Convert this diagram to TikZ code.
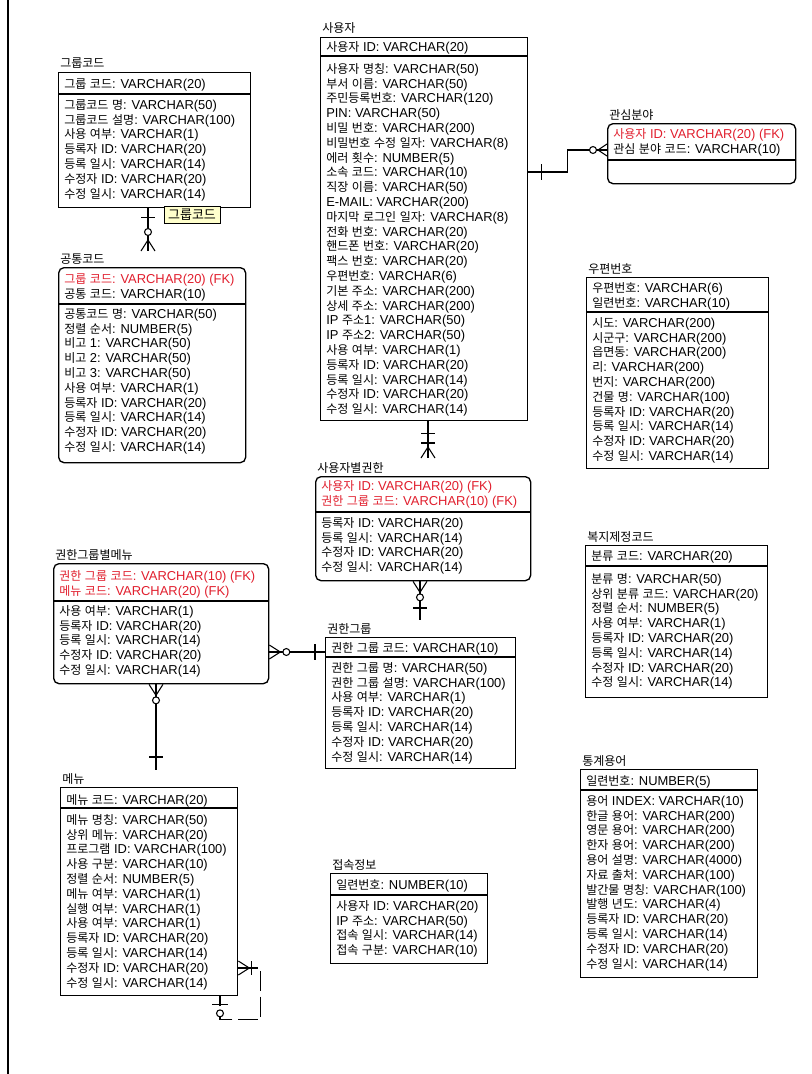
\documentclass[tikz,border=0pt]{standalone}
\usepackage{fontspec}
\setmainfont{Liberation Sans}
\newfontfamily\krfont{Noto Sans CJK KR}[Scale=0.93]
\usetikzlibrary{calc}

% hangul syllables are set in the Korean font
\XeTeXinterchartokenstate=1
\newXeTeXintercharclass\krclass
\newcount\krc
\krc="AC00
\loop\XeTeXcharclass\krc=\krclass\advance\krc by 1\relax\ifnum\krc<"D7A4\repeat
\XeTeXinterchartoks 0 \krclass = {\krfont}
\XeTeXinterchartoks 4095 \krclass = {\krfont}
\XeTeXinterchartoks \krclass 0 = {\rmfamily}
\XeTeXinterchartoks \krclass 4095 = {\rmfamily}

\definecolor{fkred}{RGB}{225,30,45}
\definecolor{tagyellow}{RGB}{255,255,204}
\newcommand{\rowfont}{\fontsize{9.7}{11.1}\selectfont}

\tikzset{
  ent/.style 2 args={draw, line width=1pt, anchor=north west, inner sep=0pt,
    minimum width=#1*0.75pt, minimum height=#2*0.75pt},
  rent/.style 2 args={ent={#1}{#2}, rounded corners=4pt},
  ttl/.style={anchor=base west, inner sep=0pt, font=\rowfont},
  rows/.style={anchor=north west, align=left, inner sep=0pt, font=\rowfont},
  sepl/.style={line width=1pt},
  rel/.style={line width=0.8pt},
  nonid/.style={rel, dash pattern=on 15pt off 4pt},
  tag/.style={draw, fill=tagyellow, inner xsep=3pt, inner ysep=2pt,
    font=\fontsize{10.5}{12}\selectfont},
}

\begin{document}
\begin{tikzpicture}[x=0.75pt,y=-0.75pt]
  \useasboundingbox (0,0) rectangle (811,1074);
  \fill[white] (0,0) rectangle (811,1074);
  \draw[line width=1pt] (8,0) -- (8,1074);
  % 그룹코드
  \node[ent={192}{135}] (grp) at (58,72) {};
  \node[ttl] (grp-t) at ($(grp.north west)+(2,-4)$) {그룹코드};
  \node[rows] (grp-k) at ($(grp.north west)+(6,7)$) {그룹 코드: VARCHAR(20)};
  \draw[sepl] ($(grp.north west)+(0,22)$) -- ($(grp.north east)+(0,22)$);
  \node[rows] (grp-b) at ($(grp.north west)+(6,27)$) {그룹코드 명: VARCHAR(50)\\
    그룹코드 설명: VARCHAR(100)\\ 사용 여부: VARCHAR(1)\\ 등록자 ID: VARCHAR(20)\\
    등록 일시: VARCHAR(14)\\ 수정자 ID: VARCHAR(20)\\ 수정 일시: VARCHAR(14)};
  % 공통코드
  \node[rent={187}{195}] (com) at (58,267) {};
  \node[ttl] (com-t) at ($(com.north west)+(2,-4)$) {공통코드};
  \node[rows] (com-k) at ($(com.north west)+(6,7)$) {\textcolor{fkred}{그룹 코드: VARCHAR(20) (FK)}\\
    공통 코드: VARCHAR(10)};
  \draw[sepl] ($(com.north west)+(0,37)$) -- ($(com.north east)+(0,37)$);
  \node[rows] (com-b) at ($(com.north west)+(6,41)$) {공통코드 명: VARCHAR(50)\\
    정렬 순서: NUMBER(5)\\ 비고 1: VARCHAR(50)\\ 비고 2: VARCHAR(50)\\ 비고 3: VARCHAR(50)\\
    사용 여부: VARCHAR(1)\\ 등록자 ID: VARCHAR(20)\\ 등록 일시: VARCHAR(14)\\
    수정자 ID: VARCHAR(20)\\ 수정 일시: VARCHAR(14)};
  % 사용자
  \node[ent={207}{383}] (usr) at (320,37) {};
  \node[ttl] (usr-t) at ($(usr.north west)+(2,-4)$) {사용자};
  \node[rows] (usr-k) at ($(usr.north west)+(6,4)$) {사용자 ID: VARCHAR(20)};
  \draw[sepl] ($(usr.north west)+(0,19)$) -- ($(usr.north east)+(0,19)$);
  \node[rows] (usr-b) at ($(usr.north west)+(6,26)$) {사용자 명칭: VARCHAR(50)\\
    부서 이름: VARCHAR(50)\\ 주민등록번호: VARCHAR(120)\\ PIN: VARCHAR(50)\\
    비밀 번호: VARCHAR(200)\\ 비밀번호 수정 일자: VARCHAR(8)\\ 에러 횟수: NUMBER(5)\\
    소속 코드: VARCHAR(10)\\ 직장 이름: VARCHAR(50)\\ E-MAIL: VARCHAR(200)\\
    마지막 로그인 일자: VARCHAR(8)\\ 전화 번호: VARCHAR(20)\\ 핸드폰 번호: VARCHAR(20)\\
    팩스 번호: VARCHAR(20)\\ 우편번호: VARCHAR(6)\\ 기본 주소: VARCHAR(200)\\
    상세 주소: VARCHAR(200)\\ IP 주소1: VARCHAR(50)\\ IP 주소2: VARCHAR(50)\\
    사용 여부: VARCHAR(1)\\ 등록자 ID: VARCHAR(20)\\ 등록 일시: VARCHAR(14)\\
    수정자 ID: VARCHAR(20)\\ 수정 일시: VARCHAR(14)};
  % 관심분야
  \node[rent={188}{60}] (intr) at (607,123) {};
  \node[ttl] (intr-t) at ($(intr.north west)+(2,-4)$) {관심분야};
  \node[rows] (intr-k) at ($(intr.north west)+(6,5)$) {\textcolor{fkred}{사용자 ID: VARCHAR(20) (FK)}\\
    관심 분야 코드: VARCHAR(10)};
  \draw[sepl] ($(intr.north west)+(0,37)$) -- ($(intr.north east)+(0,37)$);
  % 우편번호
  \node[ent={182}{191}] (zip) at (586,277) {};
  \node[ttl] (zip-t) at ($(zip.north west)+(2,-4)$) {우편번호};
  \node[rows] (zip-k) at ($(zip.north west)+(6,5)$) {우편번호: VARCHAR(6)\\ 일련번호: VARCHAR(10)};
  \draw[sepl] ($(zip.north west)+(0,35)$) -- ($(zip.north east)+(0,35)$);
  \node[rows] (zip-b) at ($(zip.north west)+(6,40)$) {시도: VARCHAR(200)\\
    시군구: VARCHAR(200)\\ 읍면동: VARCHAR(200)\\ 리: VARCHAR(200)\\ 번지: VARCHAR(200)\\
    건물 명: VARCHAR(100)\\ 등록자 ID: VARCHAR(20)\\ 등록 일시: VARCHAR(14)\\
    수정자 ID: VARCHAR(20)\\ 수정 일시: VARCHAR(14)};
  % 사용자별권한
  \node[rent={215}{104}] (uauth) at (315,476) {};
  \node[ttl] (uauth-t) at ($(uauth.north west)+(2,-4)$) {사용자별권한};
  \node[rows] (uauth-k) at ($(uauth.north west)+(6,4)$) {\textcolor{fkred}{사용자 ID: VARCHAR(20) (FK)}\\
    \textcolor{fkred}{권한 그룹 코드: VARCHAR(10) (FK)}};
  \draw[sepl] ($(uauth.north west)+(0,36)$) -- ($(uauth.north east)+(0,36)$);
  \node[rows] (uauth-b) at ($(uauth.north west)+(6,41)$) {등록자 ID: VARCHAR(20)\\
    등록 일시: VARCHAR(14)\\ 수정자 ID: VARCHAR(20)\\ 수정 일시: VARCHAR(14)};
  % 권한그룹별메뉴
  \node[rent={215}{120}] (gmenu) at (53,563) {};
  \node[ttl] (gmenu-t) at ($(gmenu.north west)+(2,-4)$) {권한그룹별메뉴};
  \node[rows] (gmenu-k) at ($(gmenu.north west)+(6,7)$) {\textcolor{fkred}{권한 그룹 코드: VARCHAR(10) (FK)}\\
    \textcolor{fkred}{메뉴 코드: VARCHAR(20) (FK)}};
  \draw[sepl] ($(gmenu.north west)+(0,38)$) -- ($(gmenu.north east)+(0,38)$);
  \node[rows] (gmenu-b) at ($(gmenu.north west)+(6,42)$) {사용 여부: VARCHAR(1)\\
    등록자 ID: VARCHAR(20)\\ 등록 일시: VARCHAR(14)\\ 수정자 ID: VARCHAR(20)\\
    수정 일시: VARCHAR(14)};
  % 권한그룹
  \node[ent={190}{131}] (agrp) at (325,637) {};
  \node[ttl] (agrp-t) at ($(agrp.north west)+(2,-4)$) {권한그룹};
  \node[rows] (agrp-k) at ($(agrp.north west)+(6,5)$) {권한 그룹 코드: VARCHAR(10)};
  \draw[sepl] ($(agrp.north west)+(0,20)$) -- ($(agrp.north east)+(0,20)$);
  \node[rows] (agrp-b) at ($(agrp.north west)+(6,25)$) {권한 그룹 명: VARCHAR(50)\\
    권한 그룹 설명: VARCHAR(100)\\ 사용 여부: VARCHAR(1)\\ 등록자 ID: VARCHAR(20)\\
    등록 일시: VARCHAR(14)\\ 수정자 ID: VARCHAR(20)\\ 수정 일시: VARCHAR(14)};
  % 복지제정코드
  \node[ent={182}{152}] (welf) at (585,545) {};
  \node[ttl] (welf-t) at ($(welf.north west)+(2,-4)$) {복지제정코드};
  \node[rows] (welf-k) at ($(welf.north west)+(6,6)$) {분류 코드: VARCHAR(20)};
  \draw[sepl] ($(welf.north west)+(0,21)$) -- ($(welf.north east)+(0,21)$);
  \node[rows] (welf-b) at ($(welf.north west)+(6,28)$) {분류 명: VARCHAR(50)\\
    상위 분류 코드: VARCHAR(20)\\ 정렬 순서: NUMBER(5)\\ 사용 여부: VARCHAR(1)\\
    등록자 ID: VARCHAR(20)\\ 등록 일시: VARCHAR(14)\\ 수정자 ID: VARCHAR(20)\\
    수정 일시: VARCHAR(14)};
  % 메뉴
  \node[ent={177}{208}] (menu) at (60,787) {};
  \node[ttl] (menu-t) at ($(menu.north west)+(2,-4)$) {메뉴};
  \node[rows] (menu-k) at ($(menu.north west)+(6,7)$) {메뉴 코드: VARCHAR(20)};
  \draw[sepl] ($(menu.north west)+(0,21)$) -- ($(menu.north east)+(0,21)$);
  \node[rows] (menu-b) at ($(menu.north west)+(6,27)$) {메뉴 명칭: VARCHAR(50)\\
    상위 메뉴: VARCHAR(20)\\ 프로그램 ID: VARCHAR(100)\\ 사용 구분: VARCHAR(10)\\
    정렬 순서: NUMBER(5)\\ 메뉴 여부: VARCHAR(1)\\ 실행 여부: VARCHAR(1)\\
    사용 여부: VARCHAR(1)\\ 등록자 ID: VARCHAR(20)\\ 등록 일시: VARCHAR(14)\\
    수정자 ID: VARCHAR(20)\\ 수정 일시: VARCHAR(14)};
  % 접속정보
  \node[ent={157}{90}] (conn) at (330,873) {};
  \node[ttl] (conn-t) at ($(conn.north west)+(2,-4)$) {접속정보};
  \node[rows] (conn-k) at ($(conn.north west)+(6,6)$) {일련번호: NUMBER(10)};
  \draw[sepl] ($(conn.north west)+(0,22)$) -- ($(conn.north east)+(0,22)$);
  \node[rows] (conn-b) at ($(conn.north west)+(6,27)$) {사용자 ID: VARCHAR(20)\\
    IP 주소: VARCHAR(50)\\ 접속 일시: VARCHAR(14)\\ 접속 구분: VARCHAR(10)};
  % 통계용어
  \node[ent={177}{208}] (term) at (580,769) {};
  \node[ttl] (term-t) at ($(term.north west)+(2,-4)$) {통계용어};
  \node[rows] (term-k) at ($(term.north west)+(6,6)$) {일련번호: NUMBER(5)};
  \draw[sepl] ($(term.north west)+(0,21)$) -- ($(term.north east)+(0,21)$);
  \node[rows] (term-b) at ($(term.north west)+(6,26)$) {용어 INDEX: VARCHAR(10)\\
    한글 용어: VARCHAR(200)\\ 영문 용어: VARCHAR(200)\\ 한자 용어: VARCHAR(200)\\
    용어 설명: VARCHAR(4000)\\ 자료 출처: VARCHAR(100)\\ 발간물 명칭: VARCHAR(100)\\
    발행 년도: VARCHAR(4)\\ 등록자 ID: VARCHAR(20)\\ 등록 일시: VARCHAR(14)\\
    수정자 ID: VARCHAR(20)\\ 수정 일시: VARCHAR(14)};

  % 그룹코드 - 공통코드
  \coordinate (a1) at ($(grp.south west)+(90,0)$);
  \coordinate (a2) at ($(com.north west)+(90,-16)$);
  \draw[rel] (a1) -- (a2);
  \draw[rel] (a1) ++(-7,9) -- ++(14,0);
  \draw[rel,fill=white] (a2) ++(0,-19) circle (2.6pt);
  \draw[rel] (a2) ++(-7,0) -- ++(7,-11) -- ++(7,11);
  \node[tag] (grp-tag) at (192,215) {그룹코드};
  % 사용자 - 관심분야
  \coordinate (b1) at ($(usr.north east)+(0,135)$);
  \coordinate (b2) at ($(intr.north west)+(0,27)$);
  \draw[rel] (b1) -- ++(39,0) |- (b2);
  \draw[rel] (b1) ++(13,-8) -- ++(0,16);
  \draw[rel,fill=white] (b2) ++(-14,0) circle (2.6pt);
  \draw[rel] (b2) ++(0,-6) -- ++(-9,6) -- ++(9,6);
  % 사용자 - 사용자별권한
  \coordinate (c1) at ($(usr.south west)+(108,0)$);
  \coordinate (c2) at ($(uauth.north west)+(113,-18)$);
  \draw[rel] (c1) -- (c2);
  \draw[rel] (c1) ++(-7,12) -- ++(14,0);
  \draw[rel] (c2) ++(-7,-15) -- ++(14,0);
  \draw[rel] (c2) ++(-7,0) -- ++(7,-11) -- ++(7,11);
  % 권한그룹 - 사용자별권한
  \coordinate (d1) at ($(uauth.south west)+(105,0)$);
  \coordinate (d2) at ($(agrp.north west)+(95,-17)$);
  \draw[rel] (d1) -- (d2);
  \draw[rel] (d1) ++(-7,0) -- ++(7,11) -- ++(7,-11);
  \draw[rel,fill=white] (d1) ++(0,16) circle (2.6pt);
  \draw[rel] (d2) ++(-7,-12) -- ++(14,0);
  % 권한그룹 - 권한그룹별메뉴
  \coordinate (e1) at ($(gmenu.north east)+(0,89)$);
  \coordinate (e2) at ($(agrp.north west)+(0,15)$);
  \draw[rel] (e1) -- (e2);
  \draw[rel] (e1) ++(0,-7) -- ++(11,7) -- ++(-11,7);
  \draw[rel,fill=white] (e1) ++(17,0) circle (2.6pt);
  \draw[rel] (e2) ++(-10,-8) -- ++(0,16);
  % 메뉴 - 권한그룹별메뉴
  \coordinate (f1) at ($(gmenu.south west)+(103,0)$);
  \coordinate (f2) at ($(menu.north west)+(96,-17)$);
  \draw[rel] (f1) -- (f2);
  \draw[rel] (f1) ++(-7,0) -- ++(7,11) -- ++(7,-11);
  \draw[rel,fill=white] (f1) ++(0,16) circle (2.6pt);
  \draw[rel] (f2) ++(-7,-13) -- ++(14,0);
  % 메뉴 - 메뉴
  \coordinate (g1) at ($(menu.north east)+(0,181)$);
  \coordinate (g2) at ($(menu.south west)+(160,0)$);
  \draw[nonid] (g1) -- ++(22,0) |- ($(g2)+(0,23)$) -- (g2);
  \draw[rel] (g1) ++(0,-7) -- ++(11,7) -- ++(-11,7);
  \draw[rel] (g1) ++(13,-7) -- ++(0,14);
  \draw[rel] (g2) ++(-8,8) -- ++(16,0);
  \draw[rel,fill=white] (g2) ++(0,17) circle (2.6pt);
\end{tikzpicture}
\end{document}
